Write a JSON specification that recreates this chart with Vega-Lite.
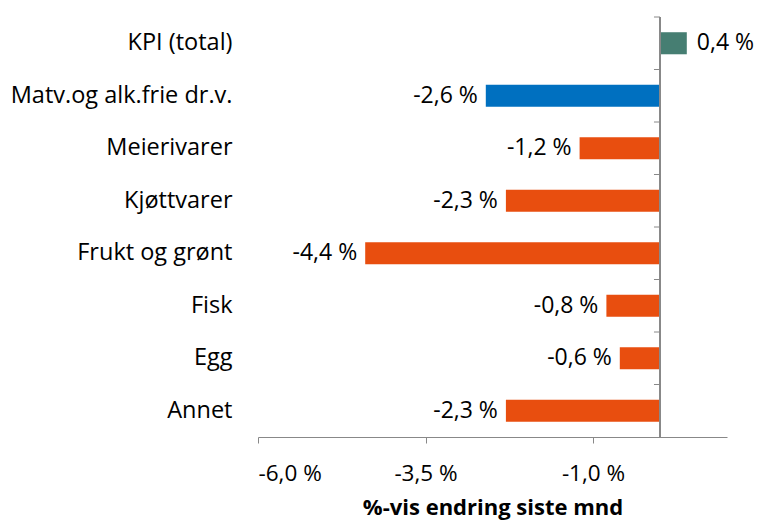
{
  "$schema": "https://vega.github.io/schema/vega-lite/v6.json",
  "width": 469,
  "height": 420,
  "autosize": {"type": "none"},
  "padding": {"left": 258, "top": 17, "right": 41, "bottom": 92},
  "config": {"view": {"stroke": null}, "font": "Open Sans", "background": "white"},
  "data": {
    "values": [
      {"kategori": "KPI (total)", "verdi": 0.4, "gruppe": "KPI"},
      {"kategori": "Matv.og alk.frie dr.v.", "verdi": -2.6, "gruppe": "Matv"},
      {"kategori": "Meierivarer", "verdi": -1.2, "gruppe": "Del"},
      {"kategori": "Kjøttvarer", "verdi": -2.3, "gruppe": "Del"},
      {"kategori": "Frukt og grønt", "verdi": -4.4, "gruppe": "Del"},
      {"kategori": "Fisk", "verdi": -0.8, "gruppe": "Del"},
      {"kategori": "Egg", "verdi": -0.6, "gruppe": "Del"},
      {"kategori": "Annet", "verdi": -2.3, "gruppe": "Del"}
    ]
  },
  "transform": [
    {"calculate": "(datum.verdi < 0 ? '-' : '') + replace(format(abs(datum.verdi), '.1f'), '.', ',') + ' %'", "as": "etikett"}
  ],
  "layer": [
    {
      "mark": {"type": "bar", "height": {"band": 0.42}},
      "encoding": {
        "y": {
          "field": "kategori",
          "type": "nominal",
          "sort": ["KPI (total)", "Matv.og alk.frie dr.v.", "Meierivarer", "Kjøttvarer", "Frukt og grønt", "Fisk", "Egg", "Annet"],
          "scale": {"paddingInner": 0, "paddingOuter": 0},
          "axis": {
            "orient": "left",
            "title": null,
            "domain": false,
            "ticks": false,
            "labelFontSize": 23.5,
            "labelColor": "#000000",
            "labelPadding": 26,
            "labelLimit": 300
          }
        },
        "x": {
          "field": "verdi",
          "type": "quantitative",
          "scale": {"domain": [-6, 1], "nice": false, "zero": false},
          "axis": {
            "values": [-6, -3.5, -1],
            "grid": false,
            "title": "%-vis endring siste mnd",
            "titleFontSize": 22,
            "titleFontWeight": "bold",
            "titleColor": "#000000",
            "titlePadding": 13,
            "labelFontSize": 22.5,
            "labelColor": "#000000",
            "labelPadding": 19,
            "labelExpr": "(datum.value < 0 ? '-' : '') + replace(format(abs(datum.value), '.1f'), '.', ',') + ' %'",
            "domainColor": "#888888",
            "tickColor": "#888888",
            "tickSize": 6
          }
        },
        "color": {
          "field": "gruppe",
          "type": "nominal",
          "scale": {"domain": ["KPI", "Matv", "Del"], "range": ["#467E72", "#0070C0", "#E84E0F"]},
          "legend": null
        }
      }
    },
    {
      "mark": {"type": "rule", "color": "#888888", "strokeWidth": 1},
      "encoding": {
        "x": {"datum": 0, "type": "quantitative"}
      }
    },
    {
      "mark": {"type": "rule", "color": "#888888", "strokeWidth": 1},
      "encoding": {
        "y": {
          "field": "kategori",
          "type": "nominal",
          "bandPosition": 0,
          "sort": ["KPI (total)", "Matv.og alk.frie dr.v.", "Meierivarer", "Kjøttvarer", "Frukt og grønt", "Fisk", "Egg", "Annet"]
        },
        "x": {"datum": -0.09, "type": "quantitative"},
        "x2": {"datum": 0}
      }
    },
    {
      "transform": [{"filter": "datum.verdi < 0"}],
      "mark": {"type": "text", "align": "right", "baseline": "middle", "dx": -8, "fontSize": 23, "color": "#000000"},
      "encoding": {
        "y": {
          "field": "kategori",
          "type": "nominal",
          "sort": ["KPI (total)", "Matv.og alk.frie dr.v.", "Meierivarer", "Kjøttvarer", "Frukt og grønt", "Fisk", "Egg", "Annet"]
        },
        "x": {"field": "verdi", "type": "quantitative"},
        "text": {"field": "etikett"}
      }
    },
    {
      "transform": [{"filter": "datum.verdi >= 0"}],
      "mark": {"type": "text", "align": "left", "baseline": "middle", "dx": 10, "fontSize": 23, "color": "#000000"},
      "encoding": {
        "y": {
          "field": "kategori",
          "type": "nominal",
          "sort": ["KPI (total)", "Matv.og alk.frie dr.v.", "Meierivarer", "Kjøttvarer", "Frukt og grønt", "Fisk", "Egg", "Annet"]
        },
        "x": {"field": "verdi", "type": "quantitative"},
        "text": {"field": "etikett"}
      }
    }
  ]
}
